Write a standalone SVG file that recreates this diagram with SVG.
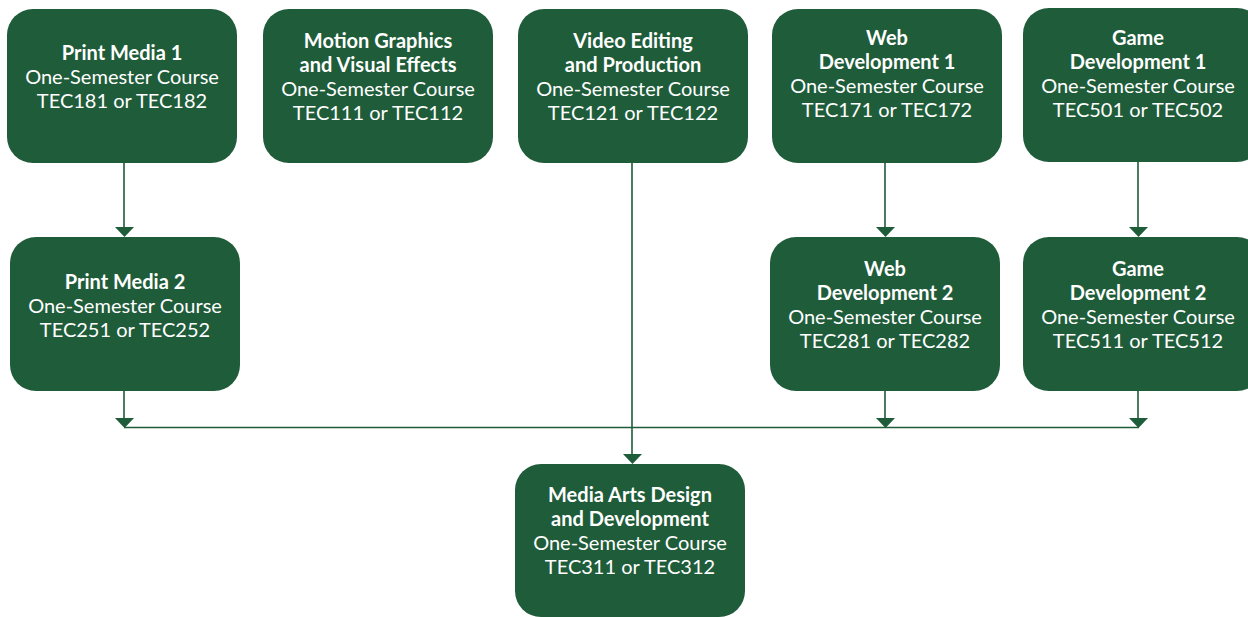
<svg xmlns="http://www.w3.org/2000/svg" width="1248" height="617" viewBox="0 0 1248 617">
<defs>
<style>
.box{fill:#1f5c3a;}
.t{font-family:Lato,"Noto Sans",sans-serif;font-size:20px;fill:#ffffff;text-anchor:middle;}
.b{font-weight:bold;}
.c{stroke:#1f5c3a;stroke-width:1.6;fill:none;}
.ah{fill:#1f5c3a;}
</style>
</defs>
<rect width="1248" height="617" fill="#ffffff"/>
<g id="connectors">
<line class="c" x1="124" y1="163" x2="124" y2="228"/>
<polygon class="ah" points="115,227 134,227 124.5,237"/>
<line class="c" x1="885" y1="163" x2="885" y2="228"/>
<polygon class="ah" points="876,227 895,227 885.5,237"/>
<line class="c" x1="1138" y1="161" x2="1138" y2="228"/>
<polygon class="ah" points="1129,227 1148,227 1138.5,237"/>
<line class="c" x1="124" y1="391" x2="124" y2="419"/>
<polygon class="ah" points="115,418 134,418 124.5,428"/>
<line class="c" x1="885" y1="391" x2="885" y2="419"/>
<polygon class="ah" points="876,418 895,418 885.5,428"/>
<line class="c" x1="1138" y1="391" x2="1138" y2="419"/>
<polygon class="ah" points="1129,418 1148,418 1138.5,428"/>
<line class="c" x1="124" y1="427.5" x2="1139" y2="427.5"/>
<line class="c" x1="632" y1="163" x2="632" y2="455"/>
<polygon class="ah" points="623,454 642,454 632.5,464"/>
</g>
<g id="print1">
<rect class="box" x="7" y="9" width="230" height="154" rx="26"/>
<text class="t b" x="122" y="60">Print Media 1</text>
<text class="t" x="122" y="84">One-Semester Course</text>
<text class="t" x="122" y="108">TEC181 or TEC182</text>
</g>
<g id="motion">
<rect class="box" x="263" y="9" width="230" height="154" rx="26"/>
<text class="t b" x="378" y="48">Motion Graphics</text>
<text class="t b" x="378" y="72">and Visual Effects</text>
<text class="t" x="378" y="96">One-Semester Course</text>
<text class="t" x="378" y="120">TEC111 or TEC112</text>
</g>
<g id="video">
<rect class="box" x="518" y="9" width="230" height="154" rx="26"/>
<text class="t b" x="633" y="48">Video Editing</text>
<text class="t b" x="633" y="72">and Production</text>
<text class="t" x="633" y="96">One-Semester Course</text>
<text class="t" x="633" y="120">TEC121 or TEC122</text>
</g>
<g id="web1">
<rect class="box" x="772" y="9" width="230" height="154" rx="26"/>
<text class="t b" x="887" y="45">Web</text>
<text class="t b" x="887" y="69">Development 1</text>
<text class="t" x="887" y="93">One-Semester Course</text>
<text class="t" x="887" y="117">TEC171 or TEC172</text>
</g>
<g id="game1">
<rect class="box" x="1023" y="8" width="240" height="154" rx="26"/>
<text class="t b" x="1138" y="45">Game</text>
<text class="t b" x="1138" y="69">Development 1</text>
<text class="t" x="1138" y="93">One-Semester Course</text>
<text class="t" x="1138" y="117">TEC501 or TEC502</text>
</g>
<g id="print2">
<rect class="box" x="10" y="237" width="230" height="154" rx="26"/>
<text class="t b" x="125" y="289">Print Media 2</text>
<text class="t" x="125" y="313">One-Semester Course</text>
<text class="t" x="125" y="337">TEC251 or TEC252</text>
</g>
<g id="web2">
<rect class="box" x="770" y="237" width="230" height="154" rx="26"/>
<text class="t b" x="885" y="276">Web</text>
<text class="t b" x="885" y="300">Development 2</text>
<text class="t" x="885" y="324">One-Semester Course</text>
<text class="t" x="885" y="348">TEC281 or TEC282</text>
</g>
<g id="game2">
<rect class="box" x="1023" y="237" width="240" height="154" rx="26"/>
<text class="t b" x="1138" y="276">Game</text>
<text class="t b" x="1138" y="300">Development 2</text>
<text class="t" x="1138" y="324">One-Semester Course</text>
<text class="t" x="1138" y="348">TEC511 or TEC512</text>
</g>
<g id="mediaarts">
<rect class="box" x="515" y="464" width="230" height="153" rx="26"/>
<text class="t b" x="630" y="502">Media Arts Design</text>
<text class="t b" x="630" y="526">and Development</text>
<text class="t" x="630" y="550">One-Semester Course</text>
<text class="t" x="630" y="574">TEC311 or TEC312</text>
</g>
</svg>
